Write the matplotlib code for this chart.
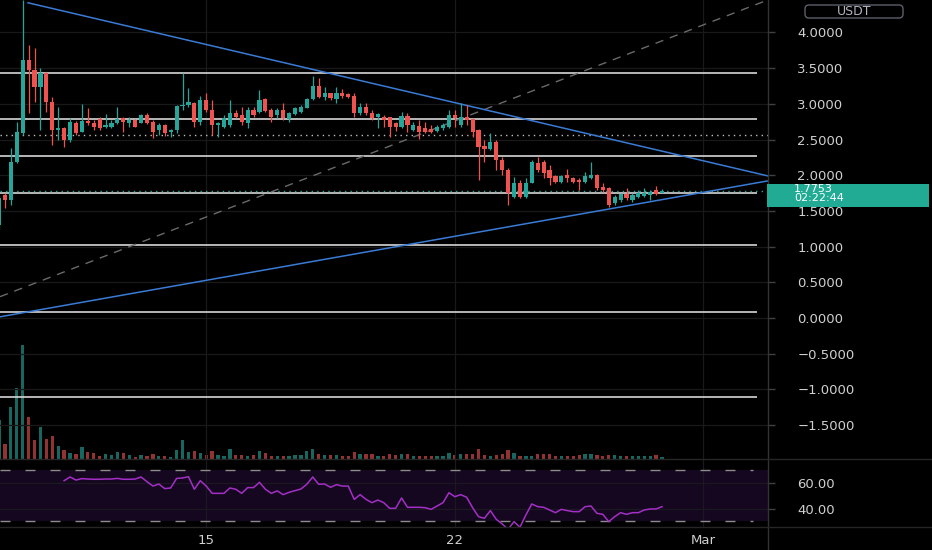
import numpy as np
import pandas as pd
import matplotlib
matplotlib.use("Agg")
import matplotlib.pyplot as plt
from matplotlib.patches import Rectangle, FancyBboxPatch
from matplotlib.lines import Line2D
from matplotlib.ticker import FuncFormatter
from matplotlib.transforms import IdentityTransform

# ---------------- data ----------------
start_time = "2023-02-09 04:00"   # 4h candles
opens = [1.30, 1.72, 1.65, 2.19, 2.59, 3.61, 3.47, 3.24, 3.43, 3.03,
         2.63, 2.66, 2.49, 2.73, 2.61, 2.76, 2.73, 2.79, 2.68, 2.68,
         2.73, 2.80, 2.73, 2.77, 2.73, 2.84, 2.75, 2.63, 2.70, 2.61,
         2.63, 2.97, 2.98, 3.01, 2.75, 3.05, 2.91, 2.70, 2.68, 2.70,
         2.87, 2.84, 2.73, 2.91, 2.89, 3.07, 2.91, 2.84, 2.91, 2.79,
         2.86, 2.89, 2.94, 3.07, 3.25, 3.10, 3.15, 3.07, 3.15, 3.14,
         3.11, 2.87, 2.96, 2.87, 2.82, 2.82, 2.82, 2.73, 2.68, 2.83,
         2.63, 2.69, 2.66, 2.65, 2.62, 2.66, 2.68, 2.84, 2.70, 2.82,
         2.79, 2.63, 2.41, 2.37, 2.47, 2.21, 2.07, 1.70, 1.89, 1.70,
         1.89, 2.17, 2.18, 2.07, 1.99, 1.90, 2.00, 1.96, 1.93, 1.90,
         1.96, 2.00, 1.83, 1.82, 1.61, 1.65, 1.74, 1.65, 1.70, 1.71,
         1.72, 1.79, 1.75]
highs = [1.72, 1.75, 2.38, 2.75, 4.45, 3.82, 3.78, 3.50, 3.45, 3.10,
         2.96, 2.68, 2.80, 2.76, 3.00, 2.94, 2.77, 2.82, 2.86, 2.77,
         2.96, 2.82, 2.82, 2.79, 2.86, 2.87, 2.77, 2.73, 2.72, 2.65,
         2.98, 3.43, 3.22, 3.03, 3.11, 3.15, 3.05, 2.75, 2.84, 3.05,
         2.91, 2.96, 2.96, 2.96, 3.19, 3.08, 2.94, 2.94, 3.01, 2.89,
         2.96, 2.98, 3.08, 3.39, 3.36, 3.24, 3.15, 3.24, 3.21, 3.15,
         3.15, 3.01, 3.01, 2.91, 2.87, 2.84, 2.82, 2.75, 2.89, 2.87,
         2.75, 2.77, 2.75, 2.70, 2.70, 2.73, 2.91, 2.91, 3.01, 2.98,
         2.80, 2.65, 2.49, 2.59, 2.49, 2.26, 2.10, 1.97, 1.93, 1.96,
         2.21, 2.26, 2.21, 2.14, 2.00, 2.00, 2.09, 1.97, 1.96, 2.05,
         2.19, 2.02, 1.89, 1.84, 1.72, 1.75, 1.82, 1.75, 1.79, 1.82,
         1.79, 1.85, 1.81]
lows = [1.25, 1.54, 1.58, 2.17, 2.56, 2.87, 3.03, 2.63, 2.89, 2.42,
        2.49, 2.39, 2.47, 2.56, 2.61, 2.70, 2.63, 2.63, 2.66, 2.66,
        2.72, 2.61, 2.68, 2.67, 2.73, 2.72, 2.52, 2.56, 2.55, 2.53,
        2.59, 2.91, 2.96, 2.68, 2.70, 2.89, 2.56, 2.53, 2.66, 2.68,
        2.80, 2.70, 2.66, 2.82, 2.87, 2.89, 2.75, 2.80, 2.77, 2.75,
        2.84, 2.87, 2.94, 3.05, 3.08, 3.05, 3.05, 3.01, 3.08, 3.08,
        2.82, 2.84, 2.84, 2.77, 2.66, 2.68, 2.53, 2.62, 2.66, 2.61,
        2.62, 2.51, 2.59, 2.59, 2.61, 2.63, 2.66, 2.68, 2.68, 2.70,
        2.53, 1.93, 2.19, 2.35, 2.07, 2.00, 1.58, 1.68, 1.68, 1.68,
        1.89, 2.05, 1.96, 1.86, 1.89, 1.89, 1.90, 1.89, 1.79, 1.89,
        1.95, 1.79, 1.77, 1.55, 1.58, 1.63, 1.65, 1.63, 1.68, 1.70,
        1.65, 1.72, 1.75]
closes = [1.68, 1.65, 2.19, 2.61, 3.61, 3.47, 3.24, 3.43, 3.03, 2.63,
          2.66, 2.49, 2.75, 2.59, 2.76, 2.73, 2.68, 2.66, 2.70, 2.73,
          2.79, 2.75, 2.77, 2.68, 2.84, 2.73, 2.61, 2.70, 2.59, 2.63,
          2.97, 2.99, 3.03, 2.75, 3.05, 2.91, 2.70, 2.73, 2.80, 2.87,
          2.82, 2.75, 2.91, 2.84, 3.05, 2.90, 2.82, 2.91, 2.80, 2.87,
          2.94, 2.96, 3.07, 3.25, 3.10, 3.15, 3.08, 3.15, 3.11, 3.10,
          2.87, 2.96, 2.87, 2.80, 2.86, 2.77, 2.68, 2.68, 2.83, 2.70,
          2.70, 2.61, 2.61, 2.61, 2.68, 2.70, 2.84, 2.80, 2.82, 2.77,
          2.61, 2.40, 2.37, 2.47, 2.21, 2.07, 1.75, 1.89, 1.70, 1.89,
          2.19, 2.07, 2.03, 1.96, 1.90, 1.99, 1.96, 1.90, 1.90, 1.99,
          2.00, 1.82, 1.79, 1.58, 1.70, 1.74, 1.68, 1.72, 1.75, 1.75,
          1.77, 1.74, 1.7753]
volumes = [39, 15, 52, 71, 114, 42, 19, 32, 20, 23,
           13, 9, 6, 5, 12, 6.7, 6, 3, 4.7, 4,
           6.7, 6, 4, 2.3, 4, 3.3, 4.7, 3.3, 3.3, 2.3,
           9.3, 19.3, 6.7, 8, 6, 4, 8, 4, 3.3, 10,
           4, 4, 3.3, 4, 8.3, 6, 3.3, 2.7, 3.3, 3.3,
           4, 4.3, 8, 10, 4.7, 4, 4, 4.3, 2.7, 2.7,
           7.3, 4.7, 4.7, 4.7, 2.7, 2.7, 4.7, 4, 4.7, 4.7,
           3.3, 2.7, 2.7, 2.7, 3.3, 3.3, 6, 4, 4.7, 4.7,
           4.7, 10, 4, 3.3, 4, 4.7, 8.7, 6, 3.3, 2.7,
           3.3, 4.7, 4.7, 4.7, 2.7, 2.7, 2.7, 2.7, 4, 5.3,
           5.3, 4, 3.3, 4, 4, 3.3, 2.7, 2.7, 2.7, 2.7,
           2.7, 4, 2]
rsi_start = 11
rsi_values = [61.8, 64.7, 62.3, 63.4, 63.1, 62.9, 62.9, 63.1, 63.1, 63.6,
              62.9, 62.9, 63.1, 64.7, 61.0, 57.6, 59.2, 55.6, 56.1, 63.6,
              63.9, 64.9, 55.1, 61.8, 57.6, 51.9, 51.9, 51.9, 56.1, 55.1,
              51.9, 56.4, 56.4, 60.5, 55.1, 51.9, 53.8, 50.9, 52.7, 54.0,
              55.3, 59.0, 64.7, 59.0, 59.2, 56.6, 58.7, 57.6, 57.6, 47.2,
              50.9, 47.2, 44.6, 46.7, 44.6, 40.2, 40.2, 48.3, 41.0, 41.0,
              41.0, 40.7, 39.4, 42.0, 44.6, 52.4, 49.3, 50.9, 48.8, 40.7,
              33.7, 32.4, 38.4, 31.6, 28.0, 23.8, 29.8, 25.4, 35.0, 43.6,
              41.5, 41.0, 38.9, 36.8, 39.4, 38.4, 37.6, 37.6, 41.5, 42.0,
              36.3, 35.5, 29.8, 33.7, 36.8, 35.5, 36.8, 36.8, 38.9, 39.7,
              39.7, 41.5]
level_lines = [3.43, 2.79, 2.27, 1.755, 1.02, 0.08, -1.11]
dotted_level = 2.563
last_price = 1.7753
countdown = "02:22:44"
currency = "USDT"
price_ticks = [-1.5, -1.0, -0.5, 0.0, 0.5, 1.0, 1.5, 2.0, 2.5, 3.0, 3.5, 4.0]
rsi_ticks = [40, 60]
rsi_band = [30, 70]
date_ticks = ["2023-02-15", "2023-02-22", "2023-03-01"]
date_labels = ["15", "22", "Mar"]
# trend-line drawings: (candle index, price) anchor pairs
down_line_idx = [4.9, 112]
down_line_price = [4.415, 2.337]
up_line_idx = [0, 112]
up_line_price = [0.014, 1.658]
dash_line_idx = [0, 112]
dash_line_price = [0.293, 3.882]

# ---------------- style ----------------
W, H = 932, 550
BG = "#000000"
UP = "#26a69a"
DN = "#ef5350"
TXT = "#cfcfcf"
GRID = "#191919"
SEP = "#333333"
LABEL_SIZE = 9.5

def fx(px):
    return px / W

def fy(py):
    return 1 - py / H

n = len(opens)
idx = np.arange(n)
o = np.array(opens); c = np.array(closes)
hi = np.array(highs); lo = np.array(lows)
up = c >= o
cols = np.where(up, UP, DN)

times = pd.date_range(start_time, periods=n, freq="4h")
tick_idx = [(pd.Timestamp(d) - times[0]) / pd.Timedelta("4h") for d in date_ticks]

PX_STEP = 5.92
XL = (1 / PX_STEP, 769 / PX_STEP)
price_ylim = (-1.975, 4.454)
rsi_ylim = (25.6, 78.75)

fig = plt.figure(figsize=(W / 100, H / 100), dpi=100, facecolor=BG)

pane_bottom = 459
rsi_bottom = 527
plot_right = 768

axv = fig.add_axes([0, fy(pane_bottom), fx(plot_right), pane_bottom / H])
ax = fig.add_axes([0, fy(pane_bottom), fx(plot_right), pane_bottom / H])
axr = fig.add_axes([0, fy(rsi_bottom), fx(plot_right), (rsi_bottom - pane_bottom) / H])

axv.set_zorder(0)
ax.set_zorder(1)
ax.patch.set_visible(False)
axv.set_facecolor(BG)
axr.set_facecolor(BG)

for a in (ax, axv, axr):
    for s in a.spines.values():
        s.set_visible(False)
    a.set_xlim(*XL)

# volume
axv.bar(idx, volumes, width=0.55, color=cols, alpha=0.62, linewidth=0)
axv.set_ylim(0, pane_bottom)
axv.set_xticks([]); axv.set_yticks([])

# grid
ax.set_xticks(tick_idx)
ax.tick_params(axis="x", length=0, labelbottom=False)
ax.grid(True, color=GRID, linewidth=0.9)
ax.set_axisbelow(True)

# level lines
x_end = (757 + 1) / PX_STEP
ax.hlines(level_lines, XL[0], x_end, color="#d6d6d6", linewidth=1.2, zorder=2)
ax.axhline(dotted_level, color="#bdbdbd", linewidth=1.0, linestyle=(0, (1, 3)), zorder=2)
ax.axhline(last_price, color=UP, linewidth=1.0, linestyle=(0, (1, 3)), zorder=2)

# trend lines
slope = (down_line_price[1] - down_line_price[0]) / (down_line_idx[1] - down_line_idx[0])
ax.plot([down_line_idx[0], XL[1]],
        [down_line_price[0], down_line_price[0] + slope * (XL[1] - down_line_idx[0])],
        color="#3a7bd5", linewidth=1.1, zorder=3)
ax.axline((up_line_idx[0], up_line_price[0]), (up_line_idx[1], up_line_price[1]),
          color="#3a7bd5", linewidth=1.1, zorder=3)
ax.axline((dash_line_idx[0], dash_line_price[0]), (dash_line_idx[1], dash_line_price[1]),
          color="#6a6a6a", linewidth=1.0, linestyle=(0, (6, 5)), zorder=2)

# candles
ax.vlines(idx, lo, hi, colors=cols, linewidth=0.9, zorder=4)
body_lo = np.minimum(o, c)
body_h = np.maximum(np.abs(c - o), 0.015)
ax.bar(idx, body_h, bottom=body_lo, width=0.7, color=cols, linewidth=0, zorder=5)

covered_tick = 1.5   # price tick partly hidden by the last-price label
ax.set_ylim(*price_ylim)
ax.yaxis.tick_right()
ax.set_yticks(price_ticks)
ax.yaxis.set_major_formatter(FuncFormatter(
    lambda v, p: "" if abs(v - covered_tick) < 1e-9 else f"{v:.4f}".replace("-", "\u2212")))
ax.tick_params(axis="y", colors="#404040", labelcolor=TXT, length=5, width=1,
               pad=16, labelsize=LABEL_SIZE)

# RSI pane
axr.axhspan(rsi_band[0], rsi_band[1], color="#15071f", zorder=0, linewidth=0)
axr.set_ylim(*rsi_ylim)
axr.set_xticks(tick_idx)
axr.set_xticklabels(date_labels)
axr.set_yticks(rsi_ticks)
axr.yaxis.tick_right()
axr.yaxis.set_major_formatter(FuncFormatter(lambda v, p: f"{v:.2f}"))
axr.grid(True, color="#1c1822", linewidth=0.9)
axr.set_axisbelow(True)
axr.hlines(rsi_band, XL[0], (753 + 1) / PX_STEP, color="#8c8c8c", linewidth=1.0,
           linestyle=(0, (7.2, 10.8)), zorder=2)
rsi_x = np.arange(rsi_start, rsi_start + len(rsi_values))
axr.plot(rsi_x, rsi_values, color="#a32fc6", linewidth=1.1, zorder=3)
axr.tick_params(axis="y", colors="#404040", labelcolor=TXT, length=5, width=1,
                pad=16, labelsize=LABEL_SIZE)
axr.tick_params(axis="x", length=0, labelcolor=TXT, labelsize=LABEL_SIZE, pad=5)

# separators
fig.add_artist(Line2D([fx(plot_right)] * 2, [0, 1], transform=fig.transFigure,
                      color=SEP, linewidth=1))
for py in (pane_bottom, rsi_bottom):
    fig.add_artist(Line2D([0, 1], [fy(py)] * 2, transform=fig.transFigure,
                          color="#262626", linewidth=1))

# currency box
fig.add_artist(FancyBboxPatch((805, H - 18), 98, 13,
                              boxstyle="round,pad=0,rounding_size=4",
                              transform=IdentityTransform(),
                              facecolor=BG, edgecolor="#5d606b", linewidth=1))
fig.text(fx(854), fy(11.5), currency, ha="center", va="center",
         color="#b2b5be", fontsize=9)

# last price label
fig.add_artist(Rectangle((fx(767), fy(207)), fx(929) - fx(767), 23 / H,
                         transform=fig.transFigure, facecolor="#22ab94",
                         edgecolor="none", zorder=10))
fig.text(fx(794), fy(188.5), f"{last_price:.4f}", ha="left", va="center",
         color="white", fontsize=8, zorder=11)
fig.text(fx(794), fy(198.5), countdown, ha="left", va="center",
         color="white", fontsize=8, zorder=11)

# the 1.5000 label sits just below the last-price box
fig.canvas.draw()
ref_lbl = [t for t in ax.get_yticklabels() if t.get_text() == "2.0000"][0]
lbl_x = ref_lbl.get_window_extent().x0
fig.text(lbl_x / W, fy(213), f"{covered_tick:.4f}", ha="left", va="center",
         color=TXT, fontsize=LABEL_SIZE, zorder=9)

fig.savefig("out.png", dpi=100, facecolor=BG)
